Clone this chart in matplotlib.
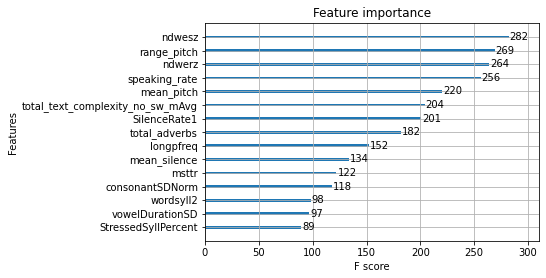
import matplotlib
matplotlib.use("Agg")
import matplotlib.pyplot as plt

features = ["StressedSyllPercent", "vowelDurationSD", "wordsyll2", "consonantSDNorm",
            "msttr", "mean_silence", "longpfreq", "total_adverbs", "SilenceRate1",
            "total_text_complexity_no_sw_mAvg", "mean_pitch", "speaking_rate",
            "ndwerz", "range_pitch", "ndwesz"]
scores = [89, 97, 98, 118, 122, 134, 152, 182, 201, 204, 220, 256, 264, 269, 282]

W, H = 546, 278
fig = plt.figure(figsize=(W / 72, H / 72), dpi=72)
ax = fig.add_axes([205 / W, (H - 241) / H, 334 / W, (241 - 23.5) / H])
ylocs = list(range(len(features)))
ax.barh(ylocs, scores, align="center", height=0.2)
for x, y in zip(scores, ylocs):
    ax.text(x + 1, y, x, va="center")
ax.set_yticks(ylocs)
ax.set_yticklabels(features)
ax.set_xlim(0, max(scores) * 1.1)
ax.set_ylim(-1, len(features))
ax.set_title("Feature importance")
ax.set_xlabel("F score")
ax.set_ylabel("Features")
ax.grid(True)
fig.savefig("out.png", dpi=72)
